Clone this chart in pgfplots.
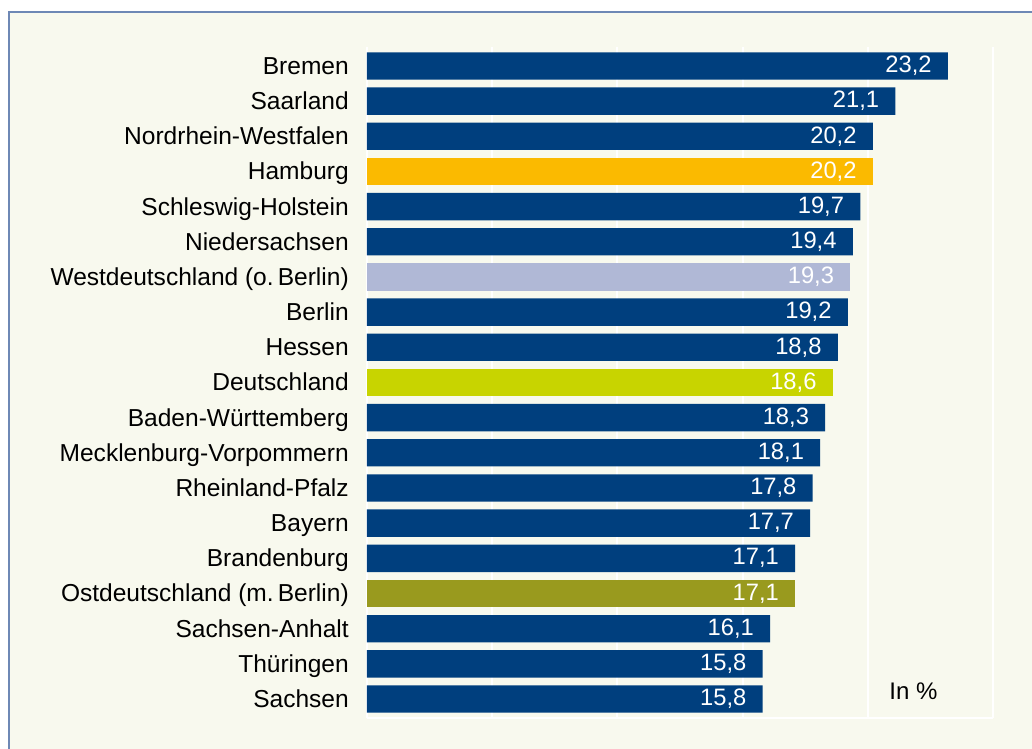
\documentclass[border=0pt]{standalone}
\usepackage{pgfplots}
\pgfplotsset{compat=1.18}
\usepackage{fontspec}
\setmainfont{Liberation Sans}
\definecolor{bgc}{HTML}{F8F9EE}
\definecolor{framec}{HTML}{6E88B5}
\definecolor{navy}{HTML}{003F7E}
\definecolor{orng}{HTML}{FBBA00}
\definecolor{lav}{HTML}{B0B8D6}
\definecolor{lime}{HTML}{C8D400}
\definecolor{olive}{HTML}{999A1E}
\begin{document}
\begin{tikzpicture}[x=0.75pt,y=0.75pt]
\useasboundingbox (0,0) rectangle (1032,749);
\fill[white] (0,0) rectangle (1032,749);
\fill[bgc] (9,-5) rectangle (1040,737);
\draw[framec, line width=1.5pt] (9,-5) rectangle (1040,737);
\begin{axis}[
    at={(275.25pt,23.25pt)}, anchor=south west,
    scale only axis,
    width=469.5pt, height=503.25pt,
    xbar, bar width=20.5pt, bar shift=0pt,
    xmin=0, xmax=25, ymin=-0.54, ymax=18.54,
    xtick={0,5,...,25}, xticklabels={},
    ytick={0,...,18},
    yticklabels={Sachsen,Thüringen,Sachsen-Anhalt,Ostdeutschland (m.\,Berlin),Brandenburg,Bayern,Rheinland-Pfalz,Mecklenburg-Vorpommern,Baden-Württemberg,Deutschland,Hessen,Berlin,Westdeutschland (o.\,Berlin),Niedersachsen,Schleswig-Holstein,Hamburg,Nordrhein-Westfalen,Saarland,Bremen},
    major tick length=0pt,
    axis line style={draw=none},
    xmajorgrids, ymajorgrids=false,
    grid style={white, line width=1.5pt},
    tick label style={font=\fontsize{18.4}{21}\selectfont, inner sep=0pt},
    yticklabel style={anchor=east, xshift=-13.5pt, text height=13pt, text depth=0pt, yshift=-6.5pt, anchor=south east},
    /pgf/number format/assume math mode=true,
    /pgf/number format/.cd, use comma, fixed, fixed zerofill, precision=1,
    /pgfplots/.cd,
    nodes near coords,
    nodes near coords style={anchor=east, xshift=-12pt, white, inner sep=0pt, font=\fontsize{17.8}{20}\selectfont},
    clip=false,
]
\draw[white, line width=1.5pt] (axis cs:0,-0.54) -- (axis cs:25,-0.54);
\addplot[fill=navy, draw=none] coordinates {(15.8,0) (15.8,1) (16.1,2) (17.1,4) (17.7,5) (17.8,6) (18.1,7) (18.3,8) (18.8,10) (19.2,11) (19.4,13) (19.7,14) (20.2,16) (21.1,17) (23.2,18)};
\addplot[fill=olive, draw=none] coordinates {(17.1,3)};
\addplot[fill=lime, draw=none] coordinates {(18.6,9)};
\addplot[fill=lav, draw=none] coordinates {(19.3,12)};
\addplot[fill=orng, draw=none] coordinates {(20.2,15)};
\end{axis}
\node[font=\fontsize{18}{20}\selectfont, inner sep=0pt] at (913.5,58) {In \%};
\end{tikzpicture}
\end{document}
